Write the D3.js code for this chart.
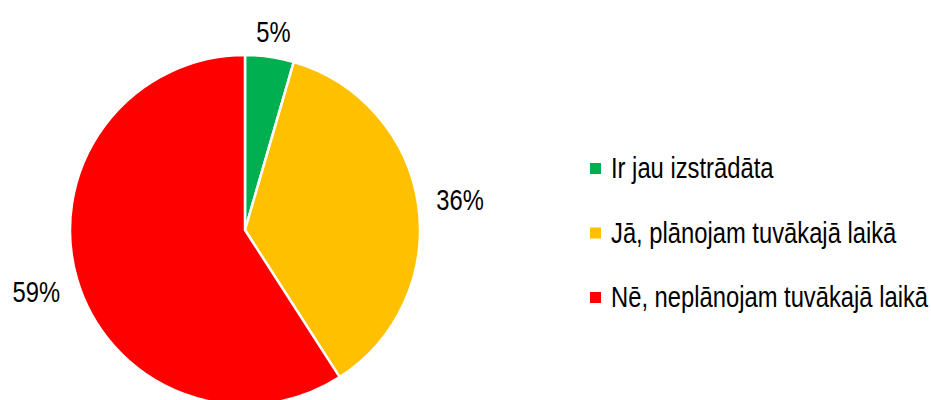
<!DOCTYPE html>
<html>
<head>
<meta charset="utf-8">
<script src="https://cdn.jsdelivr.net/npm/d3@7"></script>
<style>
  body { margin: 0; background: #fff; }
  text { font-family: "Liberation Sans", Arial, sans-serif; fill: #000; }
</style>
</head>
<body>
<div class="chart"></div>
<script>
// chart size
const w = 931;
const h = 400;
// the original font is a narrow Arial, so squeeze text sideways
const narrow = 0.82;

// data
const categories = ["Ir jau izstrādāta", "Jā, plānojam tuvākajā laikā", "Nē, neplānojam tuvākajā laikā"];
const shares = [4.5, 36.4, 59.1];
const pctLabels = ["5%", "36%", "59%"];
const colors = ["#00B050", "#FFC000", "#FF0000"];

const cx = 245, cy = 230, r = 175;

const svg = d3.select(".chart").append("svg")
  .attr("width", w)
  .attr("height", h);

const pie = d3.pie().sort(null).value(d => d.v);
const arc = d3.arc().innerRadius(0).outerRadius(r);

const rows = categories.map((c, i) => ({ name: c, v: shares[i], label: pctLabels[i], color: colors[i] }));
const arcs = pie(rows);

const g = svg.append("g").attr("transform", `translate(${cx},${cy})`);

g.selectAll("path")
  .data(arcs)
  .enter()
  .append("path")
  .attr("d", arc)
  .attr("fill", d => d.data.color)
  .attr("stroke", "#fff")
  .attr("stroke-width", 2.5)
  .attr("stroke-linejoin", "round");

// percentage labels outside the slices
const labels = g.selectAll("text.pct")
  .data(arcs)
  .enter()
  .append("text")
  .attr("class", "pct")
  .style("font-size", "29px")
  .attr("text-anchor", "middle")
  .attr("dominant-baseline", "central")
  .text(d => d.data.label);

labels.each(function(d) {
  const bb = this.getBBox();
  const a = (d.startAngle + d.endAngle) / 2;
  const sx = Math.sin(a), sy = -Math.cos(a);
  const off = r + 18 + Math.abs(sx) * bb.width * narrow / 2 + Math.abs(sy) * bb.height * 0.18;
  d3.select(this).attr("transform", `translate(${sx * off},${sy * off + 1}) scale(${narrow},1)`);
});

// legend
const legendY = d3.scalePoint()
  .domain(categories)
  .range([168.5, 297.5]);

const legend = svg.append("g").attr("class", "legend");

legend.selectAll("rect")
  .data(rows)
  .enter()
  .append("rect")
  .attr("x", 590)
  .attr("y", d => legendY(d.name) - 5.5)
  .attr("width", 11)
  .attr("height", 11)
  .attr("fill", d => d.color);

legend.selectAll("text")
  .data(rows)
  .enter()
  .append("text")
  .attr("transform", d => `translate(611,${legendY(d.name)}) scale(${narrow},1)`)
  .attr("dominant-baseline", "central")
  .style("font-size", "29px")
  .text(d => d.name);
</script>
</body>
</html>
